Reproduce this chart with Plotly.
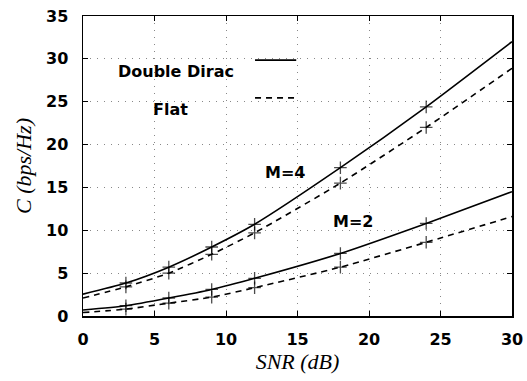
import plotly.graph_objects as go

snr = [0, 3, 6, 9, 12, 18, 24, 30]
m4_dirac = [2.55, 3.85, 5.7, 8.05, 10.7, 17.3, 24.4, 32.0]
m4_flat = [2.1, 3.4, 5.0, 7.2, 9.7, 15.5, 22.0, 28.9]
m2_dirac = [0.7, 1.2, 2.1, 3.1, 4.4, 7.3, 10.8, 14.5]
m2_flat = [0.4, 0.8, 1.5, 2.2, 3.3, 5.7, 8.6, 11.6]
marker_sizes = [0, 9, 9, 9, 9, 9, 9, 0]

x_ticks = [0, 5, 10, 15, 20, 25, 30]
y_ticks = [0, 5, 10, 15, 20, 25, 30, 35]

fig = go.Figure()
for ys, dash in [(m4_dirac, "solid"), (m4_flat, "6px,5px"), (m2_dirac, "solid"), (m2_flat, "6px,5px")]:
    fig.add_trace(go.Scatter(
        x=snr, y=ys, mode="lines+markers",
        line=dict(color="black", width=1.6, dash=dash, shape="spline", smoothing=0.6),
        marker=dict(symbol="cross-thin", size=marker_sizes, line=dict(color="black", width=1.3)),
        showlegend=False, hoverinfo="skip",
    ))

fnt_b = dict(family="DejaVu Sans", size=16, color="black")
fig.add_annotation(x=14.1, y=16.7, text="<b>M=4</b>", showarrow=False, font=fnt_b)
fig.add_annotation(x=18.9, y=11.0, text="<b>M=2</b>", showarrow=False, font=fnt_b)

# legend drawn manually (text before sample line)
fig.add_shape(type="rect", xref="paper", yref="paper", x0=0.06, x1=0.54, y0=0.69, y1=0.93,
              fillcolor="white", line=dict(width=0), layer="below")
fig.add_annotation(xref="paper", yref="paper", x=0.356, y=0.853, xanchor="right",
                   text="<b>Double Dirac</b>", showarrow=False, font=fnt_b)
fig.add_annotation(xref="paper", yref="paper", x=0.25, y=0.727, xanchor="right",
                   text="<b>Flat</b>", showarrow=False, font=fnt_b)
fig.add_shape(type="line", xref="paper", yref="paper", x0=0.401, x1=0.497, y0=0.853, y1=0.853,
              line=dict(color="black", width=1.6))
fig.add_shape(type="line", xref="paper", yref="paper", x0=0.401, x1=0.497, y0=0.727, y1=0.727,
              line=dict(color="black", width=1.6, dash="6px,5px"))

axis_common = dict(
    showline=True, linecolor="black", linewidth=1.5, mirror="ticks",
    ticks="inside", ticklen=5, tickcolor="black",
    showgrid=True, gridcolor="#888888", griddash="1px,6px", gridwidth=1,
    zeroline=False, automargin=False,
    tickfont=dict(family="DejaVu Sans", size=16, color="black"),
)
fig.update_xaxes(range=[0, 30], tickvals=x_ticks, ticktext=[f"<b>{v}</b>" for v in x_ticks],
                 title=dict(text="<i>SNR (dB)</i>", font=dict(family="Liberation Serif", size=22, color="black"), standoff=4),
                 ticklabelstandoff=8, **axis_common)
fig.update_yaxes(range=[0, 35], tickvals=y_ticks, ticktext=[f"<b>{v}</b>" for v in y_ticks],
                 title=dict(text="<i>C (bps/Hz)</i>", font=dict(family="Liberation Serif", size=22, color="black"), standoff=8),
                 ticklabelstandoff=10, **axis_common)

fig.update_layout(
    width=527, height=381,
    margin=dict(l=83, r=15, t=16, b=65),
    plot_bgcolor="white", paper_bgcolor="white",
    font=dict(color="black"),
    showlegend=False, hovermode=False,
)
fig.write_html("out.html", config={"displayModeBar": False, "staticPlot": True},
               post_script="document.body.style.margin='0';")
